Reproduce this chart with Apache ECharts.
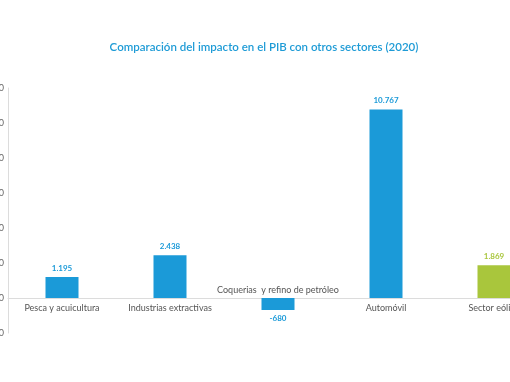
<!DOCTYPE html>
<html><head><meta charset="utf-8">
<script src="https://cdn.jsdelivr.net/npm/echarts@6/dist/echarts.min.js"></script>
<style>html,body{margin:0;padding:0;background:#fff}#c{width:510px;height:382px}</style>
</head><body><div id="c"></div>
<script>
var categories = ['Pesca y acuicultura', 'Industrias extractivas', 'Coquerias  y refino de petróleo', 'Automóvil', 'Sector eólico'];
var values = [1195, 2438, -680, 10767, 1869];
var barColors = ['#1b9ad8', '#1b9ad8', '#1b9ad8', '#1b9ad8', '#a9c63c'];
var yTicks = [-2000, 0, 2000, 4000, 6000, 8000, 10000, 12000];

function fmt(v) {
  var s = String(Math.abs(v)).replace(/\B(?=(\d{3})+(?!\d))/g, '.');
  return (v < 0 ? '-' : '') + s;
}
var font = 'Lato, "Open Sans", sans-serif';
var chart = echarts.init(document.getElementById('c'));
chart.setOption({
  animation: false,
  title: {
    text: 'Comparación del impacto en el PIB con otros sectores (2020)',
    left: 259, textAlign: 'center', top: 36,
    textStyle: { fontSize: 11.5, fontWeight: 600, color: '#1e9bd6', fontFamily: font }
  },
  grid: { left: 8, top: 88, width: 540, bottom: 49, containLabel: false, outerBoundsMode: 'none' },
  xAxis: {
    type: 'category',
    data: categories.map(function (c, i) {
      if (values[i] < 0) {
        return { value: c, textStyle: { verticalAlign: 'bottom', padding: [0, 0, 9, 0] } };
      }
      return c;
    }),
    axisLine: { onZero: true, lineStyle: { color: '#dcdcdc' } },
    axisTick: { show: false },
    axisLabel: { color: '#555', fontSize: 9, fontFamily: font, margin: -29, interval: 0 }
  },
  yAxis: {
    type: 'value', min: yTicks[0], max: yTicks[yTicks.length - 1], interval: 2000,
    axisLine: { show: true, lineStyle: { color: '#dcdcdc' } },
    axisTick: { show: false },
    splitLine: { show: false },
    axisLabel: { color: '#666', fontSize: 9, fontFamily: font, margin: 4, formatter: fmt }
  },
  series: [{
    type: 'bar', barWidth: 33,
    data: values.map(function (v, i) {
      return {
        value: v,
        itemStyle: { color: barColors[i] },
        label: {
          show: true, position: v < 0 ? 'bottom' : 'top', distance: 5,
          formatter: function (p) { return fmt(p.value); },
          color: barColors[i], fontSize: 8, fontWeight: 'bold', fontFamily: font
        }
      };
    })
  }]
});
</script></body></html>
